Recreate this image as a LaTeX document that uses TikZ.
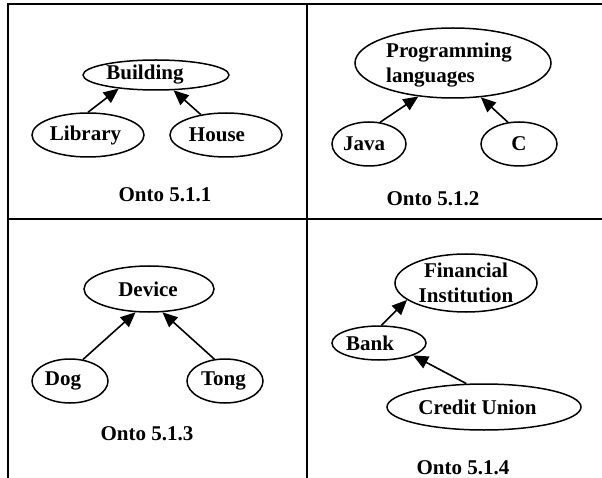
\documentclass[tikz,border=0pt]{standalone}
\usepackage{fontspec}
\setmainfont{Liberation Serif}
\usetikzlibrary{shapes.geometric,arrows.meta}
\tikzset{
  ell/.style n args={2}{draw, ellipse, line width=1.5pt, minimum width=#1, minimum height=#2, inner sep=0pt},
  txt/.style={font=\fontsize{21}{25}\selectfont\bfseries, inner sep=0pt},
  arr/.style={line width=1.6pt, -{Triangle[length=15pt,width=13pt]}},
  gridline/.style={line width=2.2pt},
}
\begin{document}
\begin{tikzpicture}[x=1pt,y=-1pt]
\useasboundingbox (0,0) rectangle (602,478);
% table lines
\coordinate (tl) at (8,4);
\coordinate (tr) at (602,4);
\coordinate (bl) at (8,478);
\coordinate (mt) at (307,4);
\coordinate (mb) at (307,478);
\coordinate (ml) at (8,219);
\coordinate (mr) at (602,219);
\draw[gridline] (tr) -- (tl) -- (bl);
\draw[gridline] (mt) -- (mb);
\draw[gridline] (ml) -- (mr);

% Onto 5.1.1
\node[ell={146pt}{30pt}, label={[txt,xshift=-11pt]center:Building}] (bld) at (156,75) {};
\node[ell={112pt}{44pt}, label={[txt,xshift=-2.5pt]center:Library}] (lib) at (88,135) {};
\node[ell={112pt}{44pt}, label={[txt,xshift=-9pt]center:House}] (hou) at (226,135) {};
\draw[arr] (lib.north) -- (bld.200);
\draw[arr] (hou.141) -- (bld.319);
\node[txt] (o1) at (165,195) {Onto 5.1.1};

% Onto 5.1.2
\node[ell={196pt}{70pt}, label={[txt,align=left,xshift=-4pt,yshift=-2pt]center:Programming\\languages}] (pl) at (453,63) {};
\node[ell={74pt}{44pt}, label={[txt,xshift=-5pt]center:Java}] (java) at (369,144) {};
\node[ell={76pt}{44pt}, label={[txt]center:C}] (c) at (519,144) {};
\draw[arr] (java.63) -- (pl.224);
\draw[arr] (c.117) -- (pl.309);
\node[txt] (o2) at (433,199) {Onto 5.1.2};

% Onto 5.1.3
\node[ell={130pt}{46pt}, label={[txt,xshift=-1pt]center:Device}] (dev) at (149,289) {};
\node[ell={76pt}{44pt}, label={[txt,xshift=-7pt]center:Dog}] (dog) at (70,381) {};
\node[ell={76pt}{44pt}, label={[txt,xshift=-1.5pt]center:Tong}] (tong) at (225,381) {};
\draw[arr] (dog.59) -- (dev.240);
\draw[arr] (tong.116) -- (dev.300);
\node[txt] (o3) at (147,434) {Onto 5.1.3};

% Onto 5.1.4
\node[ell={142pt}{58pt}, label={[txt,align=center]center:Financial\\Institution}] (fi) at (466,283) {};
\node[ell={94pt}{34pt}, label={[txt,xshift=-9pt]center:Bank}] (bank) at (379,343) {};
\node[ell={194pt}{46pt}, label={[txt,xshift=-6.5pt]center:Credit Union}] (cu) at (484,407) {};
\draw[arr] (bank.82) -- (fi.196);
\draw[arr] (cu.127) -- (bank.340);
\node[txt] (o4) at (463,468) {Onto 5.1.4};
\end{tikzpicture}
\end{document}
